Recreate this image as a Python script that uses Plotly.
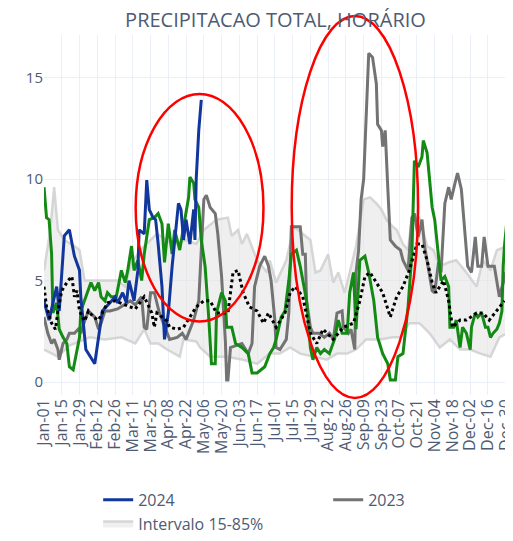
import pandas as pd
import plotly.graph_objects as go

# day-of-year offsets (0 = Jan-01) and precipitation values
d2024 = [0, 4, 10, 12, 16, 20, 24, 28, 29, 33, 40, 46, 52, 56, 58, 62, 65, 67, 71, 74, 75, 79, 81, 83, 86, 88, 90, 93, 95, 98,
         101, 106, 108, 110, 112, 115, 118, 119, 120, 122, 124]
v2024 = [4.0, 3.05, 4.7, 3.5, 7.2, 7.5, 6.2, 5.5, 4.2, 1.6, 0.9, 3.5, 3.9, 4.2, 3.9, 4.4, 3.9, 5.0, 4.0, 5.5, 7.5, 7.3, 9.95, 8.5, 8.1,
         8.0, 6.8, 4.7, 2.1, 3.4, 5.7, 8.8, 8.5, 7.0, 8.0, 6.8, 8.5, 7.0, 10.0, 12.4, 13.9]

d2023 = [0, 3, 6, 8, 11, 12, 15, 18, 20, 24, 27, 29, 32, 35, 40, 43, 45, 48, 52, 58, 63, 68, 72, 77, 79, 81, 84, 87, 91, 97,
         99, 105, 109, 112, 118, 122, 126, 128, 131, 135, 137, 140, 143, 144, 145, 147, 152, 156, 161, 164, 166, 170, 174, 177,
         179, 182, 183, 186, 191, 193, 195, 202, 204, 206, 207, 210, 212, 217, 221, 225, 228, 231, 235, 236, 240, 242, 245, 246,
         248, 250, 252, 254, 256, 259, 262, 263, 266, 267, 269, 271, 273, 277, 281, 283, 287, 290, 292, 295, 298, 300, 303, 306,
         308, 311, 313, 316, 319, 321, 324, 326, 329, 332, 334, 337, 340, 342, 345, 347, 350, 355, 358, 359, 362, 364, 365]
v2023 = [3.2, 2.4, 1.9, 2.1, 1.6, 1.1, 1.9, 2.1, 2.4, 2.4, 2.6, 2.4, 3.0, 3.5, 3.2, 2.6, 2.9, 3.5, 3.5, 3.6, 3.8, 4.0, 3.8, 4.2,
         2.7, 2.6, 4.4, 4.4, 3.4, 2.4, 2.1, 2.2, 2.4, 2.1, 3.05, 4.0, 9.0, 9.2, 8.6, 8.3, 7.3, 5.2, 2.0, 0.1, 0.1, 1.7, 1.8, 1.9,
         1.4, 1.9, 4.7, 5.7, 6.2, 5.7, 5.0, 3.05, 1.7, 1.6, 2.1, 3.4, 7.65, 7.65, 6.3, 6.3, 4.0, 2.7, 2.4, 2.4, 2.2, 2.4, 2.1, 3.4,
         3.5, 2.7, 2.4, 2.6, 1.6, 5.4, 6.5, 9.0, 10.0, 13.6, 16.2, 16.0, 14.7, 12.7, 12.4, 11.6, 12.4, 9.6, 7.0, 6.7, 6.5, 6.0,
         5.5, 8.1, 8.3, 7.15, 8.0, 6.7, 5.7, 4.5, 4.4, 5.9, 5.4, 8.8, 9.6, 9.0, 9.8, 10.3, 9.5, 7.0, 5.7, 5.4, 7.15, 5.7, 5.7,
         7.15, 5.7, 5.7, 4.7, 4.2, 4.9, 5.4, 4.4]

d_green = [0, 2, 4, 6, 7, 10, 12, 15, 18, 20, 23, 25, 28, 29, 33, 37, 40, 43, 45, 48, 50, 53, 57, 61, 64, 66, 69, 71, 74, 77,
           79, 83, 87, 90, 93, 95, 98, 101, 103, 107, 111, 114, 115, 118, 119, 122, 124, 127, 130, 132, 135, 136, 140, 143,
           144, 148, 151, 156, 161, 164, 168, 174, 178, 181, 183, 187, 190, 193, 195, 199, 202, 204, 207, 210, 212, 215, 218,
           221, 225, 229, 232, 235, 239, 241, 244, 246, 249, 253, 256, 260, 263, 267, 271, 273, 277, 279, 283, 287, 290, 292,
           295, 298, 299, 302, 304, 306, 308, 311, 313, 316, 319, 320, 323, 325, 328, 330, 333, 336, 337, 340, 342, 345, 348,
           350, 352, 354, 357, 359, 361, 362, 363, 365]
v_green = [9.6, 8.1, 8.0, 6.3, 3.4, 3.9, 2.6, 2.2, 1.9, 0.75, 0.6, 1.25, 2.2, 3.5, 4.2, 4.9, 4.5, 4.9, 4.2, 4.0, 4.4, 4.2, 4.2,
           5.5, 4.9, 5.5, 6.7, 5.5, 6.0, 5.0, 6.3, 8.0, 8.1, 8.3, 7.8, 5.9, 7.8, 6.3, 7.5, 6.5, 8.0, 9.1, 10.1, 9.8, 9.0, 8.6,
           7.0, 5.7, 3.05, 0.9, 0.9, 3.4, 4.4, 4.0, 2.7, 2.7, 1.9, 1.7, 1.4, 0.45, 0.45, 0.75, 1.4, 1.7, 2.1, 3.2, 3.5, 5.0,
           6.3, 6.5, 5.7, 5.0, 4.0, 1.7, 1.1, 1.7, 1.4, 1.6, 1.4, 2.1, 3.05, 2.4, 2.4, 4.4, 5.4, 2.6, 6.0, 6.2, 5.4, 4.0, 2.2,
           1.4, 0.9, 0.1, 0.1, 1.25, 1.4, 3.7, 6.3, 10.9, 10.6, 11.1, 11.9, 11.3, 10.0, 8.6, 8.0, 6.0, 5.0, 5.2, 4.7, 2.7, 2.7,
           3.05, 1.7, 2.7, 2.4, 1.6, 2.7, 3.4, 3.2, 3.4, 2.7, 2.7, 2.2, 2.4, 2.6, 2.9, 3.5, 5.7, 6.7, 8.0]

d_mean = [0, 2, 6, 9, 11, 14, 19, 22, 24, 26, 28, 32, 35, 39, 43, 48, 50, 56, 64, 72, 79, 85, 87, 89, 97, 99, 105, 110, 115,
          120, 126, 131, 136, 145, 149, 153, 157, 162, 168, 173, 177, 183, 190, 194, 198, 204, 210, 215, 220, 228, 236, 244,
          249, 253, 257, 262, 267, 273, 278, 283, 288, 294, 298, 302, 306, 309, 315, 319, 322, 328, 333, 341, 346, 351, 357, 363]
v_mean = [4.7, 3.7, 2.9, 2.6, 3.5, 4.5, 5.0, 5.2, 4.2, 4.5, 3.5, 3.0, 3.5, 3.2, 3.05, 3.7, 3.9, 4.0, 3.8, 3.6, 4.2, 3.4, 2.7,
          3.4, 3.0, 2.7, 2.6, 2.7, 3.2, 3.7, 4.0, 4.0, 3.4, 3.4, 5.4, 5.5, 4.4, 3.7, 3.5, 2.9, 3.4, 2.7, 3.4, 4.4, 4.7, 4.2,
          2.4, 1.9, 2.6, 2.1, 2.7, 2.9, 4.0, 5.2, 5.4, 4.9, 4.4, 3.2, 4.2, 4.7, 5.5, 6.8, 6.8, 6.0, 4.9, 4.4, 5.0, 4.0, 2.7,
          3.05, 3.05, 3.4, 3.4, 3.05, 3.5, 4.0]

d_hi = [0, 5, 8, 11, 16, 24, 28, 32, 43, 50, 58, 64, 69, 74, 79, 89, 102, 112, 120, 126, 136, 145, 148, 153, 156, 160, 168,
        176, 178, 183, 191, 197, 204, 210, 214, 218, 224, 228, 232, 237, 241, 246, 252, 257, 262, 266, 270, 275, 278, 283,
        287, 290, 296, 302, 307, 312, 319, 325, 333, 341, 346, 352, 357, 365]
v_hi = [5.5, 7.5, 9.6, 7.5, 7.0, 6.7, 6.5, 5.0, 5.0, 5.0, 5.0, 4.7, 5.9, 6.3, 6.7, 7.3, 6.8, 7.0, 6.8, 7.5, 8.0, 8.1, 7.2, 7.5,
        6.8, 7.3, 6.0, 5.4, 6.0, 4.9, 6.0, 7.65, 7.3, 7.0, 5.4, 5.5, 6.3, 4.9, 5.4, 4.4, 5.4, 6.7, 9.0, 9.1, 8.8, 8.5, 8.0,
        7.65, 7.5, 6.8, 6.5, 8.1, 8.1, 6.7, 6.5, 5.7, 5.9, 6.0, 5.4, 4.7, 6.0, 5.5, 6.5, 6.7]

d_lo = [0, 6, 11, 20, 28, 36, 48, 61, 72, 79, 84, 90, 97, 107, 110, 120, 123, 131, 144, 157, 168, 178, 186, 194, 202, 212,
        223, 231, 239, 246, 254, 265, 275, 281, 288, 296, 304, 312, 320, 328, 336, 344, 352, 359, 365]
v_lo = [1.6, 1.4, 1.25, 1.8, 2.0, 2.2, 2.1, 2.2, 1.9, 2.6, 1.9, 1.9, 1.6, 1.25, 2.1, 2.0, 1.7, 1.25, 1.25, 1.1, 0.9, 1.4, 1.4,
        1.7, 1.4, 1.25, 1.1, 1.4, 1.4, 1.6, 2.1, 2.1, 2.2, 2.2, 2.9, 2.9, 2.4, 1.7, 2.1, 1.6, 1.6, 1.4, 1.25, 2.2, 2.4]

tick_days = list(range(0, 365, 14))


def to_dates(days):
    return pd.Timestamp("2024-01-01") + pd.to_timedelta(days, unit="D")


fig = go.Figure()

fig.add_trace(go.Scatter(x=to_dates(d_lo), y=v_lo, mode="lines", line=dict(color="rgba(205,205,205,0.8)", width=2.5),
                         showlegend=False, hoverinfo="skip"))
fig.add_trace(go.Scatter(x=to_dates(d_hi), y=v_hi, mode="lines", name="Intervalo 15-85%", fill="tonexty",
                         fillcolor="rgba(225,225,225,0.55)", line=dict(color="rgba(205,205,205,0.8)", width=2.5),
                         legendrank=3))
fig.add_trace(go.Scatter(x=to_dates(d2023), y=v2023, mode="lines", name="2023",
                         line=dict(color="#737373", width=3), legendrank=2))
fig.add_trace(go.Scatter(x=to_dates(d_green), y=v_green, mode="lines", name="Média",
                         line=dict(color="#138a13", width=3), showlegend=False))
fig.add_trace(go.Scatter(x=to_dates(d2024), y=v2024, mode="lines", name="2024",
                         line=dict(color="#12379c", width=3), legendrank=1))
fig.add_trace(go.Scatter(x=to_dates(d_mean), y=v_mean, mode="lines", name="Mediana",
                         line=dict(color="black", width=3, dash="dot"), showlegend=False))

# red ellipses drawn over the chart
fig.add_shape(type="circle", xref="paper", yref="paper", x0=0.198, x1=0.474, y0=0.204, y1=0.836,
              line=dict(color="red", width=2.5))
fig.add_shape(type="circle", xref="paper", yref="paper", x0=0.535, x1=0.808, y0=-0.008, y1=1.053,
              line=dict(color="red", width=2.5))

# the page body adds an 8px offset, so the figure is 8px smaller each way
fig.update_layout(
    template="plotly_white",
    width=505, height=533,
    margin=dict(l=36, r=6, t=27, b=146, autoexpand=False),
    title=dict(text="PRECIPITACAO TOTAL, HORÁRIO", x=0.5, xref="paper", xanchor="center",
               y=1 - 12 / 533, yanchor="middle", font=dict(size=20, color="#4d5b73")),
    font=dict(color="#4d5b73"),
    xaxis=dict(range=[to_dates(0), to_dates(365)], tickvals=to_dates(tick_days), tickformat="%b-%d",
               tickangle=-90, tickfont=dict(size=16), showgrid=True, automargin=False,
               ticklabeloverflow="allow"),
    yaxis=dict(range=[-0.64, 17.1], tickvals=[0, 5, 10, 15], tickfont=dict(size=15), zeroline=False,
               automargin=False),
    legend=dict(orientation="h", x=0.117, xanchor="left", y=-0.244, yanchor="top", entrywidth=185,
                traceorder="normal", font=dict(size=16)),
)

fig.write_html("out.html")
